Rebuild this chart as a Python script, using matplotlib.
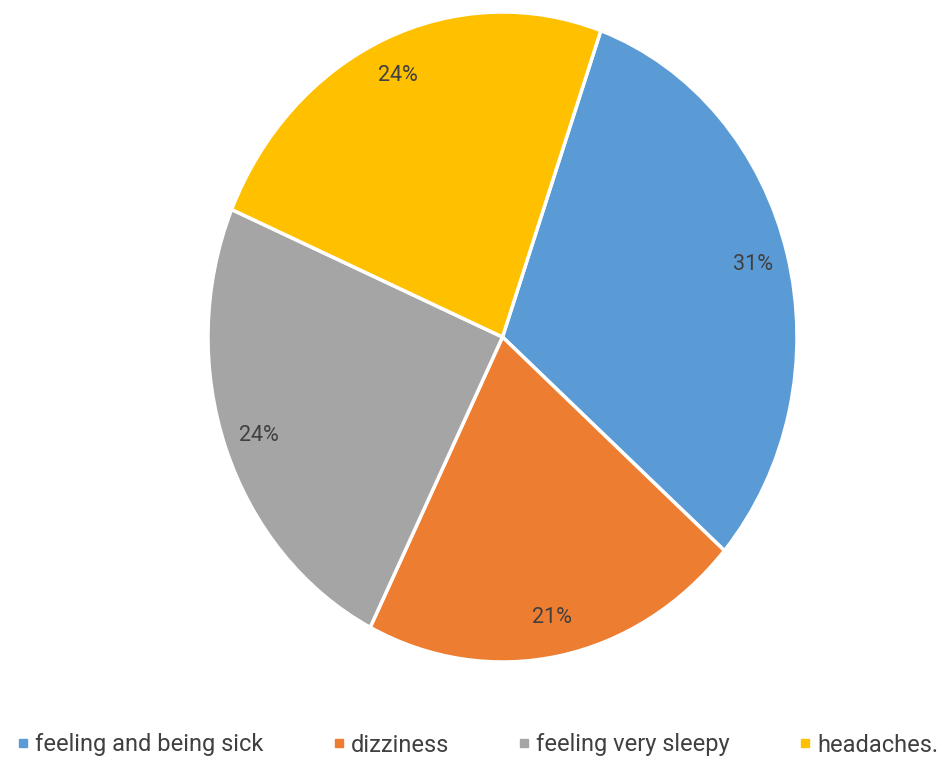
import matplotlib
matplotlib.use("Agg")
import matplotlib.pyplot as plt
from matplotlib.lines import Line2D

categories = ["feeling and being sick", "dizziness", "feeling very sleepy", "headaches."]
shares = [31, 21, 24, 24]
colors = ["#5B9BD5", "#ED7D31", "#A5A5A5", "#FFC000"]

plt.rcParams["font.family"] = ["Roboto", "DejaVu Sans"]

fig = plt.figure(figsize=(9.48, 7.59), dpi=100)
ax = fig.add_axes([208 / 948, (759 - 662) / 759, 589 / 948, 650 / 759])

wedges, texts, autotexts = ax.pie(
    shares,
    colors=colors,
    startangle=70.5,
    counterclock=False,
    autopct="%d%%",
    pctdistance=0.88,
    wedgeprops=dict(edgecolor="white", linewidth=2.5),
    textprops=dict(color="#404040", fontsize=15.5),
)
ax.set_aspect("auto")
ax.set_xlim(-1.0, 1.0)
ax.set_ylim(-1.0, 1.0)
ax.axis("off")

handles = [Line2D([0], [0], marker="s", linestyle="none", markersize=6,
                  markerfacecolor=c, markeredgecolor=c) for c in colors]
fig.legend(handles, categories, loc="center", bbox_to_anchor=(0.502, 1 - 745 / 759),
           ncol=4, frameon=False, fontsize=17, handletextpad=0.1,
           columnspacing=2.8, labelcolor="#404040", handlelength=0.8,
           borderaxespad=0, borderpad=0)

fig.savefig("out.png", dpi=100, facecolor="white")
